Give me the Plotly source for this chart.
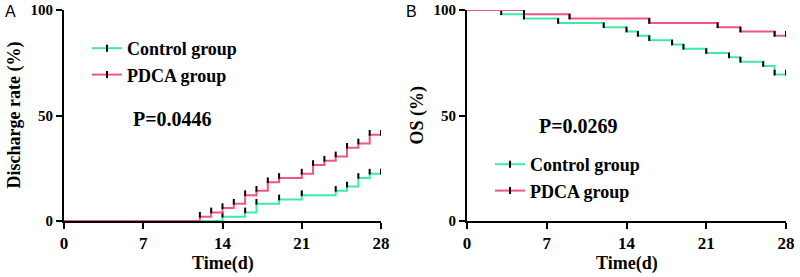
import plotly.graph_objects as go

# ---------------- data ----------------
# Panel A: discharge rate (%), cumulative, step at each day
a_control_t = [0, 14, 16, 17, 19, 21, 24, 25, 26, 27, 28]
a_control_v = [0, 2.04, 4.08, 8.16, 10.20, 12.24, 14.29, 16.33, 20.41, 22.45, 22.45]
a_pdca_t = [0, 12, 13, 14, 15, 16, 17, 18, 19, 21, 22, 23, 24, 25, 26, 27, 28]
a_pdca_v = [0, 2.04, 4.08, 6.12, 8.16, 12.24, 14.29, 18.37, 20.41, 22.45, 26.53,
            28.57, 30.61, 34.69, 36.73, 40.82, 40.82]

# Panel B: overall survival (%)
b_control_t = [0, 3, 5, 8, 12, 14, 15, 16, 18, 19, 21, 23, 24, 26, 27, 28]
b_control_v = [100, 97.96, 95.92, 93.88, 91.84, 89.80, 87.76, 85.71, 83.67, 81.63,
               79.59, 77.55, 75.51, 73.47, 69.39, 69.39]
b_pdca_t = [0, 5, 9, 16, 22, 24, 27, 28]
b_pdca_v = [100, 97.96, 95.92, 93.88, 91.84, 89.80, 87.76, 87.76]

x_ticks = [0, 7, 14, 21, 28]
y_ticks = [0, 50, 100]
series_names = ["Control group", "PDCA group"]
p_values = ["P=0.0446", "P=0.0269"]
y_titles = ["Discharge rate (%)", "OS (%)"]
x_title = "Time(d)"
panel_labels = ["A", "B"]

# ---------------- style ----------------
GREEN = "#3DEBA7"
PINK = "#F2557F"
SERIF = "Liberation Serif, Times New Roman, serif"
W, H = 800, 277
PLOT_TOP, PLOT_BOTTOM = 10, 221
A_X = (64, 381)
B_X = (467, 786)
TICK_LIFT = 2.0 * 100 / (PLOT_BOTTOM - PLOT_TOP)  # lift censor marks ~2px above the line

fig = go.Figure()


def add_curve(t, v, color, xa, ya, legend, name):
    fig.add_trace(go.Scatter(x=t, y=v, mode="lines", line=dict(color=color, width=2, shape="hv"),
                             xaxis=xa, yaxis=ya, showlegend=False, hoverinfo="skip"))
    fig.add_trace(go.Scatter(x=t[1:], y=[val + TICK_LIFT for val in v[1:]], mode="markers",
                             marker=dict(symbol="line-ns", size=4, line=dict(color="black", width=2)),
                             xaxis=xa, yaxis=ya, showlegend=False, hoverinfo="skip"))
    # legend entry
    fig.add_trace(go.Scatter(x=[None], y=[None], mode="lines+markers", name=name,
                             line=dict(color=color, width=2),
                             marker=dict(symbol="line-ns", size=5, color="black",
                                         line=dict(color="black", width=2)),
                             xaxis=xa, yaxis=ya, legend=legend))


add_curve(a_control_t, a_control_v, GREEN, "x", "y", "legend", series_names[0])
add_curve(a_pdca_t, a_pdca_v, PINK, "x", "y", "legend", series_names[1])
add_curve(b_control_t, b_control_v, GREEN, "x2", "y2", "legend2", series_names[0])
add_curve(b_pdca_t, b_pdca_v, PINK, "x2", "y2", "legend2", series_names[1])

ydom = [1 - PLOT_BOTTOM / H, 1 - PLOT_TOP / H]
axis_common = dict(showline=True, linecolor="black", linewidth=2, ticks="outside", automargin=False,
                   ticklen=6, tickwidth=2, tickcolor="black", showgrid=False, zeroline=False)
xfont = dict(family=SERIF, size=17, color="black", weight="bold")
yfont = dict(family=SERIF, size=15, color="black", weight="bold")

fig.update_layout(
    width=W, height=H, margin=dict(l=0, r=0, t=0, b=0, autoexpand=False),
    plot_bgcolor="white", paper_bgcolor="white",
    xaxis=dict(domain=[A_X[0] / W, A_X[1] / W], range=[0, 28], tickvals=x_ticks, anchor="y",
               tickfont=xfont, **axis_common),
    yaxis=dict(domain=ydom, range=[0, 100], tickvals=y_ticks, anchor="x", tickfont=yfont, **axis_common),
    xaxis2=dict(domain=[B_X[0] / W, B_X[1] / W], range=[0, 28], tickvals=x_ticks, anchor="y2",
                tickfont=xfont, **axis_common),
    yaxis2=dict(domain=ydom, range=[0, 100], tickvals=y_ticks, anchor="x2", tickfont=yfont, **axis_common),
    legend=dict(x=87 / W, y=1 - 30 / H, xanchor="left", yanchor="top", bgcolor="rgba(0,0,0,0)",
                font=dict(family=SERIF, size=18, color="black", weight="bold"), tracegroupgap=0),
    legend2=dict(x=490 / W, y=1 - 146 / H, xanchor="left", yanchor="top", bgcolor="rgba(0,0,0,0)",
                 font=dict(family=SERIF, size=18, color="black", weight="bold"), tracegroupgap=0),
    showlegend=True,
)

ann = []
# panel letters
ann.append(dict(x=3 / W, y=1 - 11 / H, text=panel_labels[0], xref="paper", yref="paper", showarrow=False,
                xanchor="left", yanchor="middle", font=dict(family="Liberation Sans, Arial", size=16, color="black")))
ann.append(dict(x=404 / W, y=1 - 11 / H, text=panel_labels[1], xref="paper", yref="paper", showarrow=False,
                xanchor="left", yanchor="middle", font=dict(family="Liberation Sans, Arial", size=16, color="black")))
# y titles
for xc, txt in [(14, y_titles[0]), (417, y_titles[1])]:
    ann.append(dict(x=xc / W, y=1 - ((PLOT_TOP + PLOT_BOTTOM) / 2) / H, text=txt, textangle=-90,
                    xref="paper", yref="paper", showarrow=False, xanchor="center", yanchor="middle",
                    font=dict(family=SERIF, size=18, color="black", weight="bold")))
# x titles
for xr in (A_X, B_X):
    ann.append(dict(x=(xr[0] + xr[1]) / 2 / W, y=1 - 263 / H, text=x_title, xref="paper", yref="paper",
                    showarrow=False, xanchor="center", yanchor="middle",
                    font=dict(family=SERIF, size=18, color="black", weight="bold")))
# p values
ann.append(dict(x=172 / W, y=1 - 119 / H, text=p_values[0], xref="paper", yref="paper", showarrow=False,
                xanchor="center", yanchor="middle", font=dict(family=SERIF, size=20, color="black", weight="bold")))
ann.append(dict(x=578 / W, y=1 - 126 / H, text=p_values[1], xref="paper", yref="paper", showarrow=False,
                xanchor="center", yanchor="middle", font=dict(family=SERIF, size=20, color="black", weight="bold")))
fig.update_layout(annotations=ann)

fig.write_html("out.html", config={"displayModeBar": False},
               post_script="document.body.style.margin='0px';")
